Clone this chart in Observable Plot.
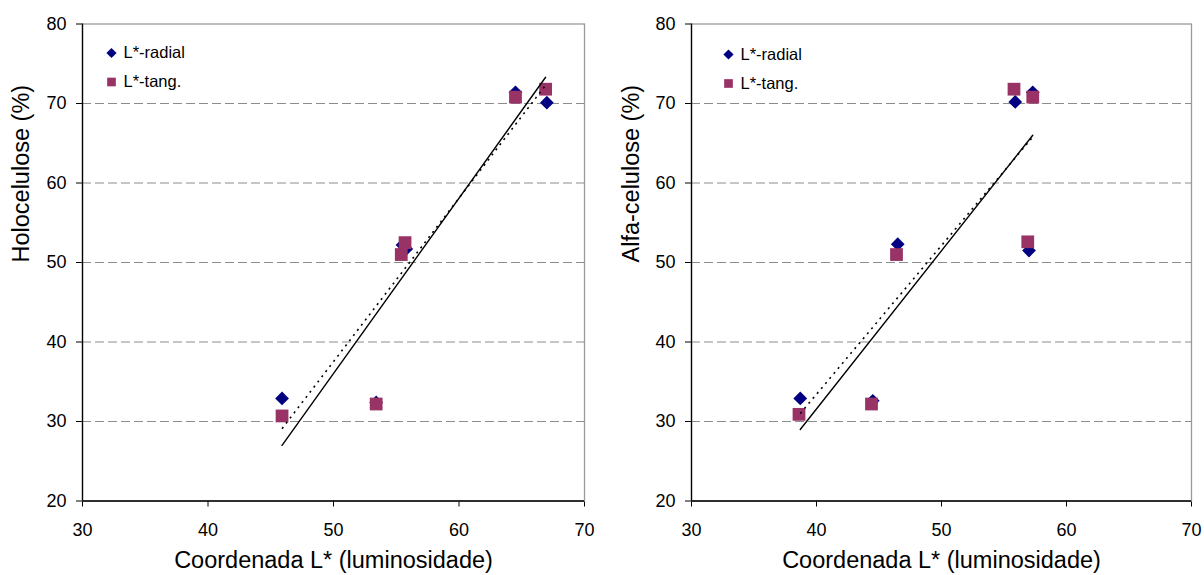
<!DOCTYPE html>
<html>
<head>
<meta charset="utf-8">
<script src="https://cdn.jsdelivr.net/npm/d3@7"></script>
<script src="https://cdn.jsdelivr.net/npm/@observablehq/plot@0.6"></script>
<style>
  html, body { margin: 0; padding: 0; background: #fff; }
  #wrap { display: flex; flex-direction: row; width: 1204px; height: 575px; overflow: hidden; }
  #wrap svg { overflow: hidden; display: block; }
</style>
</head>
<body>
<div id="wrap"></div>
<script>
// ---- Data ----
const seriesNames = ["L*-radial", "L*-tang."];
const xTicks = [30, 40, 50, 60, 70];
const yTicks = [20, 30, 40, 50, 60, 70, 80];
const gridValues = [30, 40, 50, 60, 70];
const xTitle = "Coordenada L* (luminosidade)";
const yTitles = ["Holocelulose (%)", "Alfa-celulose (%)"];

// Left chart: Holocelulose
const holoRadialX = [45.9, 53.4, 55.5, 55.8, 64.5, 67.0];
const holoRadialY = [32.9, 32.4, 52.2, 51.7, 71.4, 70.1];
const holoTangX   = [45.9, 53.4, 55.7, 55.4, 64.5, 66.9];
const holoTangY   = [30.7, 32.2, 52.5, 51.0, 70.8, 71.8];
const holoTrendSolidX = [45.9, 66.9];
const holoTrendSolidY = [27.0, 73.3];
const holoTrendDotX   = [45.9, 66.9];
const holoTrendDotY   = [29.1, 72.3];

// Right chart: Alfa-celulose
const alfaRadialX = [38.7, 44.5, 46.5, 55.9, 57.3, 57.0];
const alfaRadialY = [32.9, 32.6, 52.3, 70.2, 71.4, 51.5];
const alfaTangX   = [38.6, 44.4, 46.4, 55.8, 57.3, 56.9];
const alfaTangY   = [30.9, 32.2, 51.0, 71.8, 70.8, 52.6];
const alfaTrendSolidX = [38.7, 57.3];
const alfaTrendSolidY = [29.0, 66.0];
const alfaTrendDotX   = [38.7, 57.2];
const alfaTrendDotY   = [31.0, 65.6];

const radialColor = "#000080";
const tangColor = "#993366";
const font = "'Liberation Sans', Arial, Helvetica, sans-serif";

function pts(xs, ys) { return xs.map((x, i) => ({x, y: ys[i]})); }

function makeChart(cfg) {
  return Plot.plot({
    width: cfg.width,
    height: 575,
    marginLeft: cfg.marginLeft,
    marginRight: cfg.marginRight,
    marginTop: 23.5,
    marginBottom: 74.5,
    style: {fontFamily: font, fontSize: "18px", color: "#000", background: "#fff", overflow: "hidden"},
    x: {domain: [30, 70], ticks: xTicks, tickSize: 6, tickPadding: 16, label: null, tickFormat: d => String(d)},
    y: {domain: [20, 80], ticks: yTicks, tickSize: 6, tickPadding: 10, label: null, tickFormat: d => String(d)},
    marks: [
      Plot.ruleY(gridValues, {stroke: "#8c8c8c", strokeWidth: 1, strokeDasharray: "9,4"}),
      Plot.frame({stroke: "#999", strokeWidth: 1.3}),
      Plot.ruleX([30], {stroke: "#000", strokeWidth: 1.3}),
      Plot.ruleY([20], {stroke: "#000", strokeWidth: 1.3}),
      Plot.dot(pts(cfg.rx, cfg.ry), {x: "x", y: "y", symbol: "diamond2", r: 6.2, fill: radialColor, stroke: "none"}),
      Plot.dot(pts(cfg.tx, cfg.ty), {x: "x", y: "y", symbol: "square", r: 7.2, fill: tangColor, stroke: "none"}),
      Plot.line(pts(cfg.dotX, cfg.dotY), {x: "x", y: "y", stroke: "#000", strokeWidth: 1.6, strokeDasharray: "2,4.5", strokeLinecap: "butt"}),
      Plot.line(pts(cfg.solX, cfg.solY), {x: "x", y: "y", stroke: "#000", strokeWidth: 1.4}),
      // legend
      Plot.dot([seriesNames[0]], {frameAnchor: "top-left", dx: cfg.lgDx, dy: cfg.lgDy, symbol: "diamond2", r: 4.6, fill: radialColor, stroke: "none"}),
      Plot.dot([seriesNames[1]], {frameAnchor: "top-left", dx: cfg.lgDx, dy: cfg.lgDy + 29, symbol: "square", r: 4.9, fill: tangColor, stroke: "none"}),
      Plot.text([seriesNames[0]], {text: d => d, frameAnchor: "top-left", lineAnchor: "middle", dx: cfg.lgDx + 12, dy: cfg.lgDy, textAnchor: "start", fontSize: 16.5, fill: "#000"}),
      Plot.text([seriesNames[1]], {text: d => d, frameAnchor: "top-left", lineAnchor: "middle", dx: cfg.lgDx + 12, dy: cfg.lgDy + 29, textAnchor: "start", fontSize: 16.5, fill: "#000"}),
      // axis titles
      Plot.text([xTitle], {text: d => d, frameAnchor: "bottom", lineAnchor: "middle", dy: 59, fontSize: 23.5, fill: "#000"}),
      Plot.text([cfg.yTitle], {text: d => d, frameAnchor: "left", lineAnchor: "middle", dx: cfg.yTitleDx, rotate: -90, fontSize: 23.5, fill: "#000"})
    ]
  });
}

const wrap = document.getElementById("wrap");
wrap.appendChild(makeChart({
  width: 597, marginLeft: 82, marginRight: 13,
  rx: holoRadialX, ry: holoRadialY, tx: holoTangX, ty: holoTangY,
  solX: holoTrendSolidX, solY: holoTrendSolidY, dotX: holoTrendDotX, dotY: holoTrendDotY,
  lgDx: 29, lgDy: 29, yTitle: yTitles[0], yTitleDx: -61
}));
wrap.appendChild(makeChart({
  width: 607, marginLeft: 94, marginRight: 13,
  rx: alfaRadialX, ry: alfaRadialY, tx: alfaTangX, ty: alfaTangY,
  solX: alfaTrendSolidX, solY: alfaTrendSolidY, dotX: alfaTrendDotX, dotY: alfaTrendDotY,
  lgDx: 37, lgDy: 30.5, yTitle: yTitles[1], yTitleDx: -60
}));
</script>
</body>
</html>
